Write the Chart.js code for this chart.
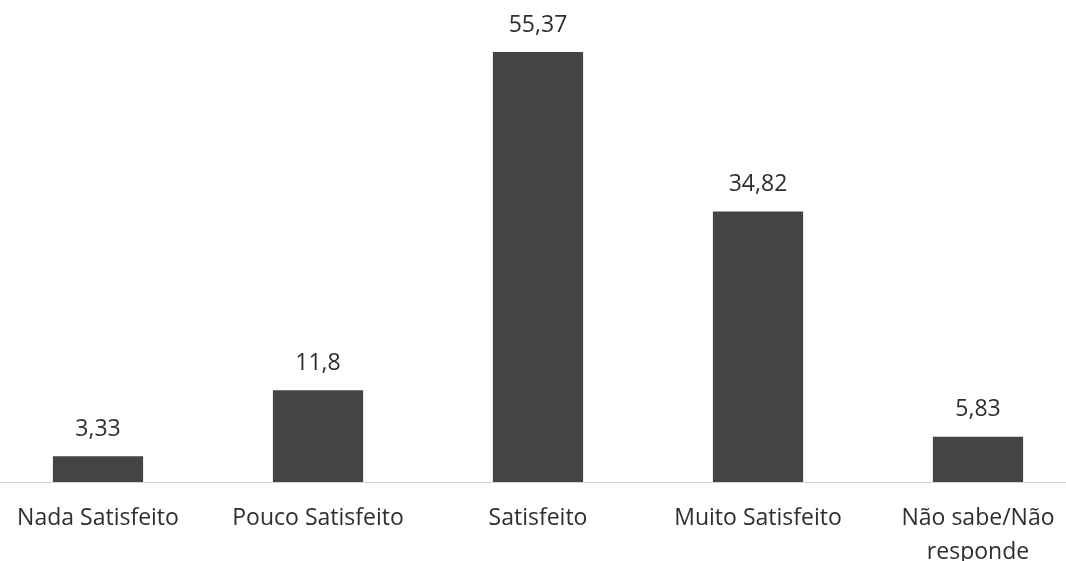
<!DOCTYPE html>
<html>
<head>
<meta charset="utf-8">
<script src="https://cdn.jsdelivr.net/npm/chart.js@4"></script>
<style>
  html, body { margin: 0; padding: 0; background: #fff; overflow: hidden; }
  #wrap { position: absolute; left: -12px; top: 0; width: 1100px; height: 561px; }
</style>
</head>
<body>
<div id="wrap"><canvas id="chart"></canvas></div>
<script>
const categories = ['Nada Satisfeito', 'Pouco Satisfeito', 'Satisfeito', 'Muito Satisfeito', ['Não sabe/Não', 'responde']];
const values = [3.33, 11.8, 55.37, 34.82, 5.83];
const valueLabels = ['3,33', '11,8', '55,37', '34,82', '5,83'];

const barColor = '#444444';
const textColor = '#2e2e2e';
const fontFamily = "'Open Sans', sans-serif";

// rótulos de valor acima das barras
const valueLabelPlugin = {
    id: 'valueLabels',
    afterDatasetsDraw(chart) {
        const ctx = chart.ctx;
        const meta = chart.getDatasetMeta(0);
        ctx.save();
        ctx.fillStyle = textColor;
        ctx.font = '500 23px ' + fontFamily;
        ctx.textAlign = 'center';
        ctx.textBaseline = 'middle';
        meta.data.forEach(function(bar, i) {
            ctx.fillText(valueLabels[i], bar.x, bar.y - 27);
        });
        ctx.restore();
    }
};

new Chart(document.getElementById('chart'), {
    type: 'bar',
    data: {
        labels: categories,
        datasets: [{
            data: values,
            backgroundColor: barColor,
            borderWidth: 0,
            categoryPercentage: 1,
            barPercentage: 0.41
        }]
    },
    options: {
        responsive: true,
        maintainAspectRatio: false,
        animation: false,
        layout: { padding: { top: 16, left: 0, right: 0, bottom: 0 } },
        scales: {
            y: {
                display: false,
                min: 0,
                max: 60
            },
            x: {
                grid: { display: false, drawTicks: false },
                border: { display: true, color: '#d4d4d4', width: 1 },
                ticks: {
                    color: textColor,
                    padding: 20,
                    maxRotation: 0,
                    autoSkip: false,
                    font: { size: 23, weight: 500, family: fontFamily, lineHeight: 1.45 }
                },
                afterFit: function(scale) { scale.height = 79; }
            }
        },
        plugins: {
            legend: { display: false },
            tooltip: { enabled: false }
        }
    },
    plugins: [valueLabelPlugin]
});
</script>
</body>
</html>
